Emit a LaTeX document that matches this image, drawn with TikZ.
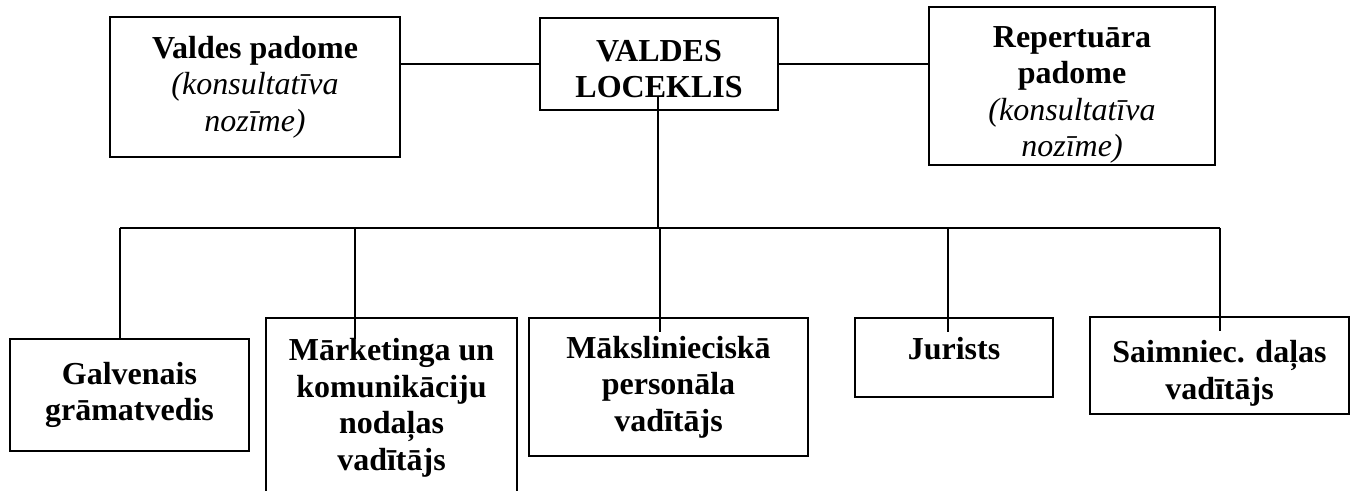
\documentclass[tikz,border=0pt]{standalone}
\usepackage{fontspec}
\setmainfont{Liberation Serif}
\usetikzlibrary{calc}
\newcommand{\piez}[1]{\textnormal{\itshape #1}}

\begin{document}
\begin{tikzpicture}[x=0.5pt, y=-0.5pt, line width=1pt,
    orgbox/.style={draw, align=center, inner sep=4pt,
        font=\fontsize{16}{18.3}\selectfont\bfseries}]
    \useasboundingbox (0,0) rectangle (1351,491);
    \clip (0,0) rectangle (1351,491);

    % top row
    \node[orgbox, minimum width=145pt, minimum height=70pt] (valdes) at (255,87)
        {Valdes padome\\ \piez{(konsultatīva}\\ \piez{nozīme)}};
    \node[orgbox, minimum width=119pt, minimum height=46pt, text height=34pt] (loceklis) at (659,64)
        {VALDES\\ LOCEKLIS};
    \node[orgbox, minimum width=143pt, inner ysep=0pt, text height=75pt, text depth=4pt] (repertuars) at (1072,86)
        {Repertuāra\\ padome\\ \piez{(konsultatīva}\\ \piez{nozīme)}};

    % bottom row
    \node[orgbox, minimum width=119.5pt, minimum height=56pt] (gramatvedis) at (129.5,395)
        {Galvenais\\ grāmatvedis};
    \node[orgbox, minimum width=125.5pt, minimum height=90pt] (marketings) at (391.5,408)
        {Mārketinga un\\ komunikāciju\\ nodaļas\\ vadītājs};
    \node[orgbox, minimum width=139.5pt, minimum height=69pt] (makslinieks) at (668.5,387)
        {Mākslinieciskā\\ personāla\\ vadītājs};
    \node[orgbox, minimum width=99pt, text height=17pt, text depth=14.5pt] (jurists) at (954,357.5)
        {Jurists};
    \node[orgbox, minimum width=129.5pt, minimum height=47.5pt, text height=37pt] (saimnieks) at (1219.5,365.5)
        {Saimniec. daļas\\ vadītājs};

    % bus
    \coordinate (t0) at (658,228);
    \coordinate (t1) at (120,228);
    \coordinate (t2) at (355,228);
    \coordinate (t3) at (660,228);
    \coordinate (t4) at (948,228);
    \coordinate (t5) at (1220,228);

    \draw (loceklis.west) -- (loceklis.west -| valdes.east);
    \draw (loceklis.east) -- (loceklis.east -| repertuars.west);
    \draw ($(t0 |- loceklis.south)+(0,-15)$) -- (t0);
    \draw (t1) -- (t5);

    \draw (t1) -- (t1 |- gramatvedis.north);
    \draw (t2) -- ($(t2 |- marketings.north)+(0,22)$);
    \draw (t3) -- ($(t3 |- makslinieks.north)+(0,15)$);
    \draw (t4) -- ($(t4 |- jurists.north)+(0,15)$);
    \draw (t5) -- ($(t5 |- saimnieks.north)+(0,15)$);
\end{tikzpicture}
\end{document}
